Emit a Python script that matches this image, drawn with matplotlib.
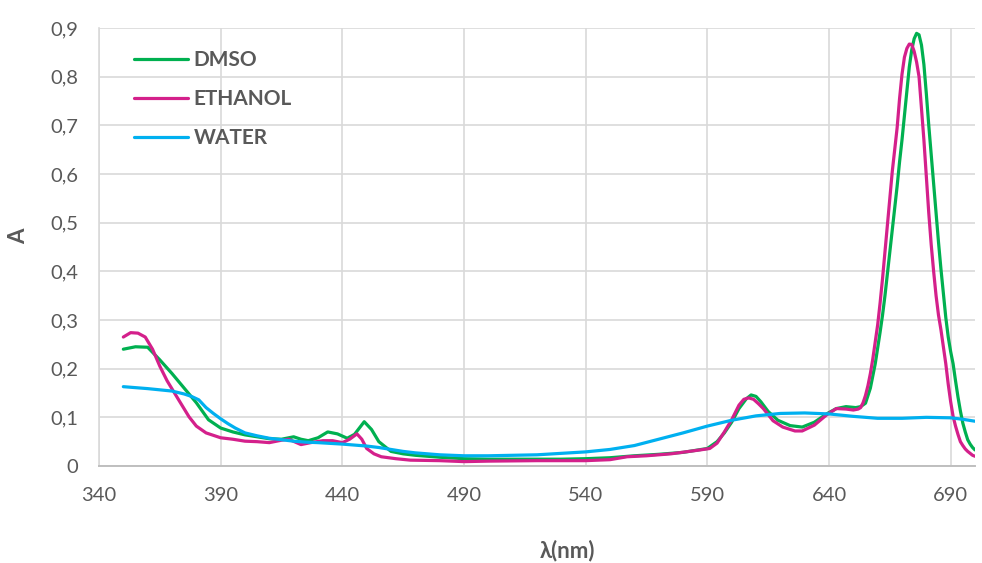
import matplotlib
matplotlib.use("Agg")
import matplotlib.pyplot as plt
from matplotlib.ticker import FuncFormatter, MultipleLocator

plt.rcParams['font.family'] = ['Lato', 'DejaVu Sans']

# ---- data ----
wl_dmso = [350, 355, 360, 365, 370, 375, 380, 385, 390, 395, 400, 405, 410, 415,
           420, 423, 426, 430, 434, 438, 442, 445, 449, 452, 455, 460, 465, 470,
           480, 490, 500, 510, 520, 530, 540, 550, 560, 570, 580, 590, 594, 597,
           600, 603, 606, 608, 610, 612, 615, 619, 624, 629, 634, 639, 643, 647,
           651, 653, 655, 657, 659, 661, 662, 663, 664, 665, 666, 667, 668, 669,
           670, 671, 672, 673, 674, 675, 676, 677, 678, 679, 680, 681, 682, 683,
           684, 685, 686, 687, 688, 689, 690, 691, 692, 693, 694, 695, 696, 697,
           698, 699, 700]
a_dmso = [0.240, 0.245, 0.244, 0.218, 0.190, 0.160, 0.130, 0.095, 0.078, 0.070,
          0.064, 0.060, 0.056, 0.055, 0.060, 0.055, 0.052, 0.058, 0.070, 0.066,
          0.057, 0.065, 0.091, 0.075, 0.050, 0.030, 0.025, 0.022, 0.018, 0.015,
          0.014, 0.014, 0.014, 0.014, 0.015, 0.017, 0.021, 0.024, 0.028, 0.036,
          0.050, 0.068, 0.090, 0.118, 0.138, 0.146, 0.143, 0.132, 0.112, 0.094,
          0.083, 0.080, 0.090, 0.107, 0.118, 0.122, 0.120, 0.122, 0.129, 0.160,
          0.210, 0.275, 0.310, 0.350, 0.395, 0.440, 0.485, 0.530, 0.575, 0.625,
          0.670, 0.720, 0.770, 0.820, 0.855, 0.878, 0.889, 0.886, 0.865, 0.825,
          0.765, 0.700, 0.640, 0.580, 0.520, 0.460, 0.405, 0.355, 0.305, 0.265,
          0.235, 0.210, 0.175, 0.142, 0.113, 0.088, 0.070, 0.054, 0.045, 0.038,
          0.033]

wl_eth = [350, 353, 356, 359, 362, 365, 368, 372, 377, 380, 384, 390, 395, 400,
          405, 410, 415, 418, 423, 427, 432, 436, 440, 443, 446, 448, 450, 453,
          456, 462, 468, 480, 490, 500, 520, 540, 550, 557, 565, 575, 587, 591,
          594, 597, 600, 603, 605, 607, 609, 611, 613, 617, 621, 626, 629, 634,
          639, 643, 647, 650, 652, 653, 654, 655, 656, 657, 658, 659, 660, 661,
          662, 663, 664, 665, 666, 667, 668, 669, 670, 671, 672, 673, 674, 675,
          676, 677, 678, 679, 680, 681, 682, 683, 684, 685, 686, 687, 688, 689,
          690, 691, 692, 693, 694, 695, 696, 697, 698, 699, 700]
a_eth = [0.265, 0.274, 0.273, 0.265, 0.240, 0.205, 0.175, 0.142, 0.101, 0.082,
         0.068, 0.058, 0.055, 0.051, 0.050, 0.048, 0.053, 0.055, 0.044, 0.048,
         0.052, 0.052, 0.048, 0.055, 0.066, 0.055, 0.036, 0.025, 0.019, 0.015,
         0.012, 0.011, 0.009, 0.010, 0.011, 0.011, 0.013, 0.019, 0.021, 0.025,
         0.033, 0.036, 0.047, 0.070, 0.095, 0.125, 0.137, 0.140, 0.137, 0.128,
         0.118, 0.093, 0.080, 0.072, 0.072, 0.084, 0.105, 0.118, 0.117, 0.115,
         0.117, 0.120, 0.130, 0.145, 0.165, 0.190, 0.220, 0.255, 0.290, 0.335,
         0.385, 0.440, 0.495, 0.550, 0.605, 0.650, 0.695, 0.755, 0.805, 0.840,
         0.858, 0.867, 0.866, 0.852, 0.830, 0.800, 0.735, 0.670, 0.595, 0.520,
         0.455, 0.400, 0.350, 0.310, 0.280, 0.245, 0.210, 0.168, 0.132, 0.102,
         0.082, 0.065, 0.050, 0.042, 0.035, 0.030, 0.026, 0.022, 0.020]

wl_water = [350, 360, 370, 375, 378, 381, 384, 387, 390, 393, 396, 400, 405, 410,
            415, 420, 425, 430, 440, 450, 455, 460, 465, 470, 480, 490, 500, 510,
            520, 530, 540, 550, 560, 570, 580, 590, 600, 610, 620, 630, 640, 650,
            660, 670, 680, 690, 695, 700]
a_water = [0.163, 0.159, 0.154, 0.148, 0.143, 0.136, 0.120, 0.108, 0.097, 0.087,
           0.078, 0.068, 0.062, 0.057, 0.054, 0.051, 0.049, 0.048, 0.045, 0.041,
           0.038, 0.034, 0.030, 0.027, 0.023, 0.021, 0.021, 0.022, 0.023, 0.026,
           0.029, 0.034, 0.042, 0.055, 0.068, 0.082, 0.094, 0.103, 0.108, 0.109,
           0.107, 0.102, 0.098, 0.098, 0.100, 0.099, 0.096, 0.092]

series_names = ["DMSO", "ETHANOL", "WATER"]
x_ticks = [340, 390, 440, 490, 540, 590, 640, 690]

# ---- styling ----
colors = ["#00B050", "#D4208B", "#00B0F0"]
txt_color = "#595959"
grid_color = "#D9D9D9"

fig = plt.figure(figsize=(9.82, 5.63), dpi=100)
ax = fig.add_axes([99 / 982, 1 - 466 / 563, 876 / 982, 438 / 563])

for wl, a, name, c in zip([wl_dmso, wl_eth, wl_water], [a_dmso, a_eth, a_water],
                          series_names, colors):
    ax.plot(wl, a, color=c, lw=2.3, label=name, solid_capstyle='round',
            solid_joinstyle='round')

ax.set_xlim(340, 700)
ax.set_ylim(0, 0.9)
ax.set_xticks(x_ticks)
ax.yaxis.set_major_locator(MultipleLocator(0.1))
ax.yaxis.set_major_formatter(FuncFormatter(
    lambda v, p: '0' if abs(v) < 1e-9 else f'{v:.1f}'.replace('.', ',')))

ax.grid(True, color=grid_color, lw=1.2)
ax.set_axisbelow(True)
for s in ['top', 'right']:
    ax.spines[s].set_visible(False)
ax.spines['left'].set_color(grid_color)
ax.spines['left'].set_linewidth(1.2)
ax.spines['bottom'].set_color("#BFBFBF")
ax.spines['bottom'].set_linewidth(1.4)
ax.tick_params(axis='both', length=0, labelsize=14.5, labelcolor=txt_color)
ax.tick_params(axis='y', pad=15)
ax.tick_params(axis='x', pad=15)

fig.text(568 / 982, 1 - 551 / 563, "λ(nm)", ha='center', va='center',
         fontsize=16, fontweight='bold', color=txt_color)
fig.text(19 / 982, 1 - 236 / 563, "A", ha='center', va='center', rotation=90,
         fontsize=16, fontweight='bold', color=txt_color)

leg = ax.legend(loc='upper left', bbox_to_anchor=(0.04, 0.949), frameon=False,
                fontsize=15, handlelength=2.6, handletextpad=0.25,
                labelspacing=0.9, borderpad=0, borderaxespad=0)
for t in leg.get_texts():
    t.set_color(txt_color)
    t.set_fontweight('bold')

fig.savefig("out.png", dpi=100)
